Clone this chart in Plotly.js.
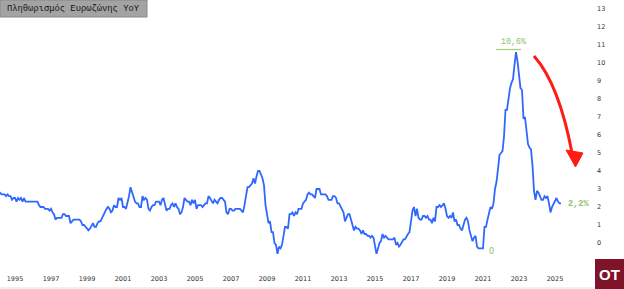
<!DOCTYPE html>
<html>
<head>
<meta charset="utf-8">
<script src="https://cdn.plot.ly/plotly-3.0.1.min.js"></script>
<style>html,body{margin:0;padding:0;background:#fff;}#chart{width:624px;height:289px;}</style>
</head>
<body>
<div id="chart"></div>
<script>
// Euro area HICP inflation, YoY %, monthly from Jan 1994
const startYear = 1994;
const y1994 = [2.8,2.8,2.7,2.7,2.7,2.6,2.7,2.6,2.6,2.4,2.5,2.5];
const y1995 = [2.3,2.5,2.4,2.5,2.3,2.5,2.3,2.3,2.3,2.3,2.3,2.3];
const y1996 = [2.3,2.3,2.3,2.1,2.0,2.0,2.0,1.9,1.9,1.9,1.8,1.9];
const y1997 = [1.7,1.6,1.3,1.4,1.4,1.4,1.4,1.6,1.6,1.5,1.5,1.5];
const y1998 = [1.1,1.2,1.3,1.3,1.3,1.3,1.3,1.2,1.0,1.0,0.9,0.8];
const y1999 = [0.7,0.8,1.0,1.1,0.9,0.9,1.1,1.2,1.2,1.4,1.5,1.8];
const y2000 = [1.9,2.0,1.9,1.7,1.8,2.1,2.0,2.0,2.5,2.4,2.5,2.0];
const y2001 = [2.0,1.9,2.2,2.6,3.1,2.8,2.5,2.3,2.2,2.2,2.0,2.0];
const y2002 = [2.6,2.4,2.5,2.4,1.9,1.8,2.0,2.1,2.1,2.3,2.3,2.3];
const y2003 = [2.1,2.4,2.5,2.1,1.8,1.9,1.9,2.1,2.2,2.0,2.2,2.0];
const y2004 = [1.9,1.6,1.7,2.0,2.5,2.4,2.3,2.3,2.1,2.4,2.2,2.4];
const y2005 = [1.9,2.1,2.1,2.1,2.0,2.1,2.2,2.2,2.6,2.5,2.3,2.2];
const y2006 = [2.4,2.3,2.2,2.4,2.5,2.5,2.4,2.3,1.7,1.6,1.9,1.9];
const y2007 = [1.8,1.8,1.9,1.9,1.9,1.9,1.8,1.7,2.1,2.6,3.1,3.1];
const y2008 = [3.2,3.3,3.6,3.3,3.7,4.0,4.0,3.8,3.6,3.2,2.1,1.6];
const y2009 = [1.1,1.2,0.6,0.6,0.0,-0.1,-0.6,-0.2,-0.3,-0.1,0.5,0.9];
const y2010 = [0.9,0.8,1.6,1.6,1.7,1.5,1.7,1.6,1.9,1.9,1.9,2.2];
const y2011 = [2.3,2.4,2.7,2.8,2.7,2.7,2.6,2.5,3.0,3.0,3.0,2.7];
const y2012 = [2.7,2.7,2.7,2.6,2.4,2.4,2.4,2.6,2.6,2.5,2.2,2.2];
const y2013 = [2.0,1.8,1.7,1.2,1.4,1.6,1.6,1.3,1.1,0.7,0.9,0.8];
const y2014 = [0.8,0.7,0.5,0.7,0.5,0.5,0.4,0.4,0.3,0.4,0.3,-0.2];
const y2015 = [-0.6,-0.3,0.0,0.1,0.5,0.3,0.4,0.3,0.2,0.2,0.2,0.2];
const y2016 = [0.3,-0.1,0.0,-0.2,-0.1,0.1,0.2,0.2,0.4,0.5,0.6,1.1];
const y2017 = [1.8,2.0,1.5,1.9,1.4,1.3,1.3,1.5,1.5,1.4,1.5,1.3];
const y2018 = [1.3,1.1,1.4,1.2,2.0,2.0,2.1,2.0,2.1,2.2,1.9,1.5];
const y2019 = [1.4,1.5,1.4,1.7,1.2,1.3,1.0,1.0,0.8,0.7,1.0,1.3];
const y2020 = [1.4,1.2,0.7,0.3,0.1,0.3,0.4,-0.2,-0.3,-0.3,-0.3,-0.3];
const y2021 = [0.9,0.9,1.3,1.6,2.0,1.9,2.2,3.0,3.4,4.1,4.9,5.0];
const y2022 = [5.1,5.9,7.4,7.4,8.1,8.6,8.9,9.1,9.9,10.6,10.1,9.2];
const y2023 = [8.6,8.5,6.9,7.0,6.1,5.5,5.3,5.2,4.3,2.9,2.4,2.9];
const y2024 = [2.8,2.6,2.4,2.4,2.6,2.5,2.6,2.2,1.7,2.0,2.2,2.4];
const y2025 = [2.5,2.3,2.2,2.2];

const years = [y1994,y1995,y1996,y1997,y1998,y1999,y2000,y2001,y2002,y2003,y2004,y2005,y2006,y2007,y2008,y2009,y2010,y2011,y2012,y2013,y2014,y2015,y2016,y2017,y2018,y2019,y2020,y2021,y2022,y2023,y2024,y2025];
const xTickVals = [1995,1997,1999,2001,2003,2005,2007,2009,2011,2013,2015,2017,2019,2021,2023,2025];
const yTickVals = [0,1,2,3,4,5,6,7,8,9,10,11,12,13];

const chartTitle = "Πληθωρισμός Ευρωζώνης YoY";
const peakLabel = "10,6%";
const lowLabel = "0";
const lastLabel = "2,2%";

// month-end positions in decimal years
const xs = [], vals = [];
years.forEach((arr, yi) => arr.forEach((v, m) => { xs.push(startYear + yi + (m + 1) / 12); vals.push(v); }));

// layout geometry (pixels)
const W = 624, H = 289, ML = 0, MR = 34, MT = 0, MB = 27;
const PW = W - ML - MR, PH = H - MT - MB;
const X0 = 1995 - 15 / 18, X1 = X0 + PW / 18;
const Ytop = 243 / 18, Ybot = (243 - PH) / 18;
const px2x = p => X0 + p / 18;
const py2y = p => (243 - p) / 18;
const pxp = p => p / PW;
const pyp = p => (PH - p) / PH;

const green = "#8cc26b";
const mono = "Liberation Mono, DejaVu Sans Mono, monospace";

// peak / last positions from data
let iPeak = 0; vals.forEach((v, i) => { if (v > vals[iPeak]) iPeak = i; });
const iLast = vals.length - 1;
let iLow = 0; xs.forEach((x, i) => { if (x > 2020 && x < 2021.2 && vals[i] <= vals[iLow] ) iLow = i; });

const trace = {
  x: xs, y: vals, type: "scatter", mode: "lines",
  line: { color: "#3068ff", width: 1.8 }, hoverinfo: "skip"
};

const arrowPath = `M ${px2x(534)},${py2y(56)} Q ${px2x(559)},${py2y(84)} ${px2x(572)},${py2y(153)}`;
const headPath = `M ${px2x(575.5)},${py2y(167)} L ${px2x(566)},${py2y(150)} L ${px2x(583)},${py2y(153)} Z`;

const layout = {
  width: W, height: H,
  margin: { l: ML, r: MR, t: MT, b: MB, pad: 0 },
  paper_bgcolor: "#ffffff", plot_bgcolor: "#ffffff",
  showlegend: false,
  font: { family: "DejaVu Sans, sans-serif", size: 7, color: "#333" },
  xaxis: {
    type: "linear", range: [X0, X1], tickvals: xTickVals, ticktext: xTickVals.map(String),
    showgrid: false, zeroline: false, showline: false, ticks: "",
    tickfont: { size: 6.5, color: "#333" }, ticklabelstandoff: 11, fixedrange: true
  },
  yaxis: {
    range: [Ybot, Ytop], side: "right", tickvals: yTickVals, ticktext: yTickVals.map(String),
    showgrid: false, zeroline: false, showline: false, ticks: "",
    tickfont: { size: 6.5, color: "#333" }, ticklabelstandoff: 6, fixedrange: true
  },
  shapes: [
    { type: "rect", xref: "paper", yref: "paper", x0: pxp(0), x1: pxp(147), y0: pyp(17), y1: pyp(0),
      fillcolor: "#a3a3a3", line: { color: "#888888", width: 1 }, layer: "above" },
    { type: "line", xref: "x", yref: "y", x0: px2x(496), x1: px2x(521), y0: py2y(49.5), y1: py2y(49.5),
      line: { color: "#9fd07c", width: 1.2 }, layer: "above" },
    { type: "path", xref: "x", yref: "y", path: arrowPath, line: { color: "#ff1a12", width: 3 } },
    { type: "path", xref: "x", yref: "y", path: headPath, fillcolor: "#ff1a12", line: { color: "#ff1a12", width: 1 } },
    { type: "rect", xref: "paper", yref: "paper", x0: pxp(595), x1: pxp(626), y0: pyp(290), y1: pyp(259),
      fillcolor: "#7e1329", line: { width: 0 } },
    { type: "line", xref: "paper", yref: "paper", x0: pxp(0), x1: pxp(595), y0: pyp(288), y1: pyp(288),
      line: { color: "#e3e3e3", width: 1 } }
  ],
  annotations: [
    { xref: "paper", yref: "paper", x: pxp(73.5), y: pyp(8.5), text: chartTitle, showarrow: false,
      font: { family: mono, size: 8.8, color: "#151515" }, xanchor: "center", yanchor: "middle" },
    { xref: "x", yref: "y", x: xs[iPeak] - 0.15, y: vals[iPeak], text: peakLabel, showarrow: false,
      yshift: 11, font: { family: mono, size: 8.3, color: green }, xanchor: "center", yanchor: "middle" },
    { xref: "x", yref: "y", x: xs[iLow], y: vals[iLow], text: lowLabel, showarrow: false,
      xshift: 8, yshift: -3, font: { family: "DejaVu Sans, sans-serif", size: 8, color: green }, xanchor: "center", yanchor: "middle" },
    { xref: "x", yref: "y", x: xs[iLast], y: vals[iLast], text: "<b>" + lastLabel + "</b>", showarrow: false,
      xshift: 5, yshift: -1, font: { family: mono, size: 8.6, color: green }, xanchor: "left", yanchor: "middle" },
    { xref: "paper", yref: "paper", x: pxp(609.5), y: pyp(274.5), text: "<b>OT</b>", showarrow: false,
      font: { family: "Liberation Sans, Arial, sans-serif", size: 15, color: "#ffffff" }, xanchor: "center", yanchor: "middle" }
  ]
};

Plotly.newPlot("chart", [trace], layout, { staticPlot: true, displayModeBar: false });
</script>
</body>
</html>
